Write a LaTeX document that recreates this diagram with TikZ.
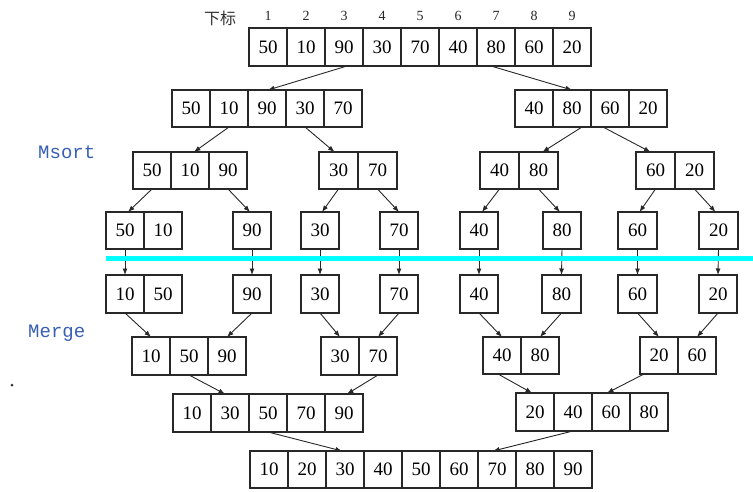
\documentclass[tikz,border=0pt]{standalone}
\usepackage{fontspec}
\setmainfont{Liberation Serif}
\newfontfamily\labfont{Liberation Mono}
\newfontfamily\cjkfont{Noto Sans CJK SC}
\usetikzlibrary{arrows.meta}
\definecolor{boxline}{RGB}{40,40,40}
\definecolor{labblue}{RGB}{55,95,180}
\definecolor{cyanbar}{RGB}{0,255,255}
\tikzset{
  cell/.style={inner sep=0pt, outer sep=0pt, font=\fontsize{19}{19}\selectfont, anchor=north west},
  boxdraw/.style={draw=boxline, line width=1.1pt},
  arr/.style={draw=boxline, line width=0.9pt, -{Latex[length=6.5pt,width=5pt]}},
  idx/.style={font=\fontsize{14}{14}\selectfont, text=black!85},
  lab/.style={font=\labfont\fontsize{19}{19}\selectfont, text=labblue, anchor=west, inner sep=0pt}
}
% name, x, y, cell width, height, values, count
\newcommand\cellrow[7]{%
  \foreach \v [count=\i] in {#6} {
    \node[cell, minimum width=#4pt, minimum height=#5pt] (#1-\i) at ({#2+(\i-1)*#4}, #3) {\v};
  }%
  \draw[boxdraw] (#1-1.north west) rectangle (#1-#7.south east);
  \ifnum#7>1
    \foreach \i in {2,...,#7} { \draw[boxdraw] (#1-\i.north west) -- (#1-\i.south west); }
  \fi
}
\begin{document}
\begin{tikzpicture}[x=1pt,y=-1pt]
\useasboundingbox (0,0) rectangle (753,492);
% index header
\node[font=\cjkfont\fontsize{16}{16}\selectfont, text=black!80] (hdr) at (220,18) {下标};
% rows
\cellrow{a}{249}{28}{38}{38}{50,10,90,30,70,40,80,60,20}{9}
\foreach \i in {1,...,9} { \node[idx] (n\i) at ({249+(\i-0.5)*38},16) {\i}; }
\cellrow{b}{172}{90}{38}{37}{50,10,90,30,70}{5}
\cellrow{c}{515}{90}{38}{37}{40,80,60,20}{4}
\cellrow{d}{133}{152}{38}{37}{50,10,90}{3}
\cellrow{e}{319}{152}{39}{37}{30,70}{2}
\cellrow{f}{480}{152}{39}{37}{40,80}{2}
\cellrow{g}{636}{152}{39}{37}{60,20}{2}
\cellrow{h}{106}{212}{38}{37}{50,10}{2}
\cellrow{i}{233}{212}{38}{37}{90}{1}
\cellrow{j}{301}{212}{38}{37}{30}{1}
\cellrow{k}{380}{212}{38}{37}{70}{1}
\cellrow{l}{460}{212}{38}{37}{40}{1}
\cellrow{m}{543}{212}{38}{37}{80}{1}
\cellrow{n}{618}{212}{39}{37}{60}{1}
\cellrow{o}{699}{212}{39}{37}{20}{1}
\cellrow{p}{106}{275}{38}{38}{10,50}{2}
\cellrow{q}{233}{275}{38}{38}{90}{1}
\cellrow{r}{301}{275}{38}{38}{30}{1}
\cellrow{s}{380}{275}{38}{38}{70}{1}
\cellrow{t}{460}{275}{38}{38}{40}{1}
\cellrow{u}{542}{275}{39}{38}{80}{1}
\cellrow{v}{618}{275}{39}{38}{60}{1}
\cellrow{w}{699}{275}{38}{38}{20}{1}
\cellrow{A}{132}{337}{38}{38}{10,50,90}{3}
\cellrow{B}{321}{337}{38}{38}{30,70}{2}
\cellrow{C}{483}{337}{38}{37}{40,80}{2}
\cellrow{D}{640}{337}{38}{37}{20,60}{2}
\cellrow{E}{173}{394}{38}{38}{10,30,50,70,90}{5}
\cellrow{F}{516}{393}{38}{38}{20,40,60,80}{4}
\cellrow{G}{250}{451}{38}{37}{10,20,30,40,50,60,70,80,90}{9}
% labels
\node[lab] (msort) at (38,152) {Msort};
\node[lab] (merge) at (28,333) {Merge};
% arrows: split
\draw[arr] ([xshift=3pt]a-3.south) -- ([xshift=1pt]b-3.north);
\draw[arr] ([xshift=-5pt]a-7.south) -- (c-2.north);
\draw[arr] (b-2.south) -- ([xshift=4pt]d-2.north);
\draw[arr] (b-4.south) -- ([xshift=-4pt]e-1.north);
\draw[arr] ([xshift=10pt]c-2.south) -- ([xshift=4pt]f-2.north);
\draw[arr] ([xshift=-7pt]c-3.south) -- ([xshift=-5pt]g-1.north);
\draw[arr] (d-1.south) -- ([xshift=3pt]h-1.north);
\draw[arr] (d-3.south) -- ([xshift=-2pt]i-1.north);
\draw[arr] (e-1.south) -- ([xshift=2pt]j-1.north);
\draw[arr] (e-2.south) -- (k-1.north);
\draw[arr] (f-1.south) -- ([xshift=3pt]l-1.north);
\draw[arr] (f-2.south) -- ([xshift=-2pt]m-1.north);
\draw[arr] (g-1.south) -- ([xshift=2pt]n-1.north);
\draw[arr] (g-2.south) -- ([xshift=-3pt]o-1.north);
% vertical arrows
\foreach \s/\t in {h/p,i/q,j/r,k/s,l/t,m/u,n/v,o/w} { \draw[arr] (\s-1.south) -- (\t-1.north); }
% cyan divider
\coordinate (cyl) at (106,258);
\coordinate (cyr) at (753,258);
\draw[cyanbar, line width=5pt] (cyl) -- (cyr);
% arrows: merge
\draw[arr] (p-1.south) -- (A-1.north);
\draw[arr] (q-1.south) -- (A-3.north);
\draw[arr] (r-1.south) -- (B-1.north);
\draw[arr] (s-1.south) -- (B-2.north);
\draw[arr] (t-1.south) -- (C-1.north);
\draw[arr] (u-1.south) -- (C-2.north);
\draw[arr] (v-1.south) -- (D-1.north);
\draw[arr] (w-1.south) -- (D-2.north);
\draw[arr] (A-2.south) -- ([xshift=-5pt]E-2.north);
\draw[arr] (B-2.south) -- ([xshift=3pt]E-5.north);
\draw[arr] ([xshift=-4pt]C-1.south) -- ([xshift=-3pt]F-1.north);
\draw[arr] ([xshift=-15pt]D-1.south) -- ([xshift=-4pt]F-3.north);
\draw[arr] (E-3.south) -- ([xshift=-3pt]G-3.north);
\draw[arr] (F-2.south) -- ([xshift=-4pt]G-7.north);
% stray dot
\fill[black!80] (12,385) circle (1.5);
\end{tikzpicture}
\end{document}
